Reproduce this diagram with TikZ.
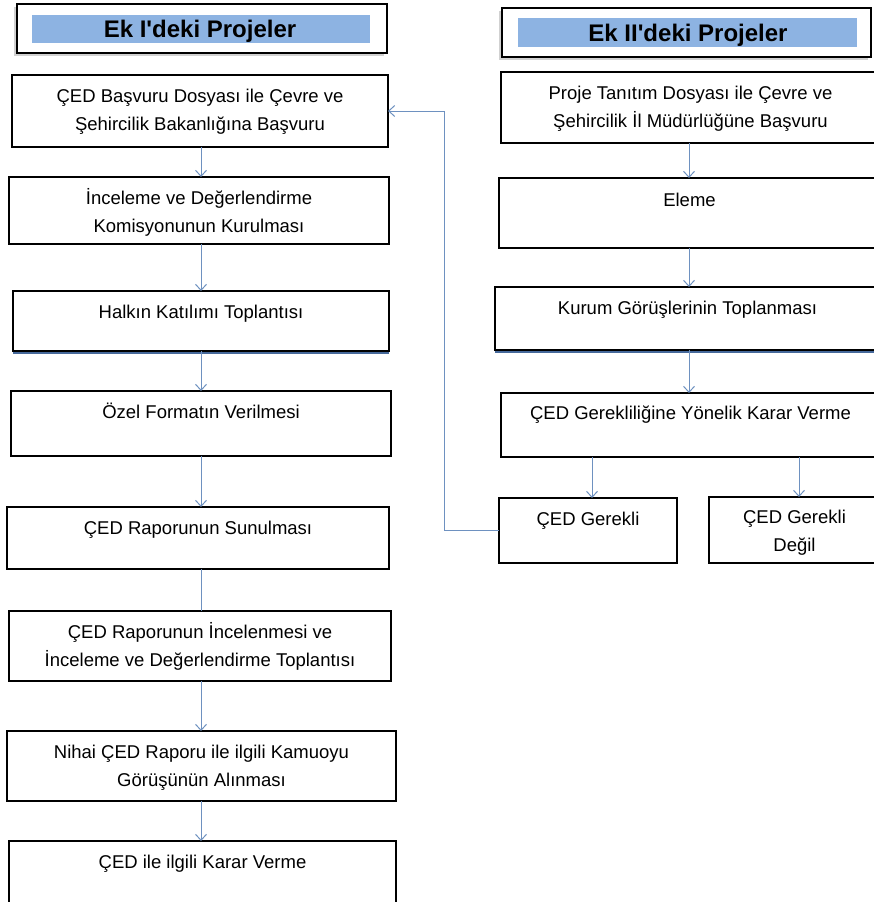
\documentclass[tikz,border=0pt]{standalone}
\usepackage{fontspec}
\setmainfont{Liberation Sans}
\usetikzlibrary{arrows.meta}
\definecolor{arrowblue}{RGB}{110,145,192}
\definecolor{headblue}{RGB}{141,179,226}
\definecolor{shadowblue}{RGB}{70,105,155}
\newcommand\fs{\fontsize{18.5pt}{28pt}\selectfont}
\newcommand\mkbox[6][box]{\node[#1, minimum width={(#5-#3)*1pt}, minimum height={(#6-#4)*1pt}] (#2) at ({(#3+#5)/2},{(#4+#6)/2}) {};}
\begin{document}
\begin{tikzpicture}[x=1pt,y=-1pt,
  box/.style={draw=black, line width=1.1pt, fill=white, inner sep=0pt, outer sep=0pt},
  headbox/.style={box, line width=1.2pt},
  headfill/.style={fill=headblue, inner sep=0pt, outer sep=0pt},
  txt/.style={anchor=north, inner sep=0pt, align=center, font=\fs},
  headtxt/.style={anchor=base, inner sep=0pt, font=\fontsize{24pt}{28pt}\selectfont\bfseries},
  arr/.style={draw=arrowblue, line width=1pt, -{Straight Barb[length=6pt,width=11pt,line width=1pt]}},
  plain/.style={draw=arrowblue, line width=1pt},
  bshadow/.style={draw=shadowblue, line width=2pt},
  gshadow/.style={fill=black!18, draw=none}]
\useasboundingbox (0,0) rectangle (873,902);
% header shadows
\fill[gshadow] (14,7) rectangle (384,56);
\fill[gshadow] (499,11) rectangle (868,60);
% headers
\mkbox[headbox]{HL}{17}{4}{387}{53}
\mkbox[headfill]{HLf}{32}{15}{370}{43}
\node[headtxt] (HLt) at (200,37.5) {Ek I\textquotesingle deki Projeler};
\mkbox[headbox]{HR}{502}{8}{871}{57}
\mkbox[headfill]{HRf}{518}{18}{857}{47}
\node[headtxt] (HRt) at (688,41) {Ek II\textquotesingle deki Projeler};
% left column
\mkbox{L1}{12}{75}{388}{147}
\mkbox{L2}{9}{177}{389}{244}
\mkbox{L3}{13}{291}{389}{351}
\mkbox{L4}{11}{391}{391}{456}
\mkbox{L5}{7}{507}{389}{569}
\mkbox{L6}{9}{611}{391}{681}
\mkbox{L7}{7}{731}{396}{801}
\mkbox{L8}{9}{841}{396}{915}
\draw[bshadow] ([yshift=-1.8pt]L3.south west) -- ([yshift=-1.8pt]L3.south east);
\node[txt] (L1t) at ([yshift=-8pt]L1.north) {\strut ÇED Başvuru Dosyası ile Çevre ve\\Şehircilik Bakanlığına Başvuru};
\node[txt] (L2t) at ([yshift=-8pt]L2.north) {\strut İnceleme ve Değerlendirme\\Komisyonunun Kurulması};
\node[txt] (L3t) at ([yshift=-8pt]L3.north) {\strut Halkın Katılımı Toplantısı};
\node[txt] (L4t) at ([yshift=-8pt]L4.north) {\strut Özel Formatın Verilmesi};
\node[txt] (L5t) at ([yshift=-8pt]L5.north) {\strut ÇED Raporunun Sunulması};
\node[txt] (L6t) at ([yshift=-8pt]L6.north) {\strut ÇED Raporunun İncelenmesi ve\\İnceleme ve Değerlendirme Toplantısı};
\node[txt] (L7t) at ([yshift=-8pt]L7.north) {\strut Nihai ÇED Raporu ile ilgili Kamuoyu\\Görüşünün Alınması};
\node[txt] (L8t) at ([yshift=-8pt]L8.north) {\strut ÇED ile ilgili Karar Verme};
% right column
\mkbox{R1}{501}{72}{880}{143}
\mkbox{R2}{499}{178}{880}{248}
\mkbox{R3}{495}{287}{880}{350}
\mkbox{R4}{501}{393}{880}{457}
\mkbox{R5}{499}{498}{677}{563}
\mkbox{R6}{709}{497}{880}{563}
\draw[bshadow] ([yshift=-1.8pt]R3.south west) -- ([yshift=-1.8pt]R3.south east);
\node[txt] (R1t) at ([yshift=-8pt]R1.north) {\strut Proje Tanıtım Dosyası ile Çevre ve\\Şehircilik İl Müdürlüğüne Başvuru};
\node[txt] (R2t) at ([yshift=-9pt]R2.north) {\strut Eleme};
\node[txt] (R3t) at ([yshift=-8pt]R3.north) {\strut Kurum Görüşlerinin Toplanması};
\node[txt] (R4t) at ([yshift=-7pt]R4.north) {\strut ÇED Gerekliliğine Yönelik Karar Verme};
\node[txt] (R5t) at ([yshift=-8pt]R5.north) {\strut ÇED Gerekli};
\node[txt] (R6t) at ([yshift=-7pt]R6.north) {\strut ÇED Gerekli\\Değil};
% connector guides
\coordinate (lx) at (201,0);
\coordinate (rx) at (689,0);
\coordinate (ax) at (592,0);
\coordinate (bx) at (799,0);
\coordinate (fx) at (444,0);
% left arrows
\draw[arr] (L1.south -| lx) -- (L2.north -| lx);
\draw[arr] (L2.south -| lx) -- (L3.north -| lx);
\draw[arr] (L3.south -| lx) -- (L4.north -| lx);
\draw[arr] (L4.south -| lx) -- (L5.north -| lx);
\draw[plain] (L5.south -| lx) -- (L6.north -| lx);
\draw[arr] (L6.south -| lx) -- (L7.north -| lx);
\draw[arr] (L7.south -| lx) -- (L8.north -| lx);
% right arrows
\draw[arr] (R1.south -| rx) -- (R2.north -| rx);
\draw[arr] (R2.south -| rx) -- (R3.north -| rx);
\draw[arr] (R3.south -| rx) -- (R4.north -| rx);
\draw[arr] (R4.south -| ax) -- (R5.north -| ax);
\draw[arr] (R4.south -| bx) -- (R6.north -| bx);
% feedback
\draw[arr] (R5.west) -- (R5.west -| fx) |- (L1.east);
\end{tikzpicture}
\end{document}
